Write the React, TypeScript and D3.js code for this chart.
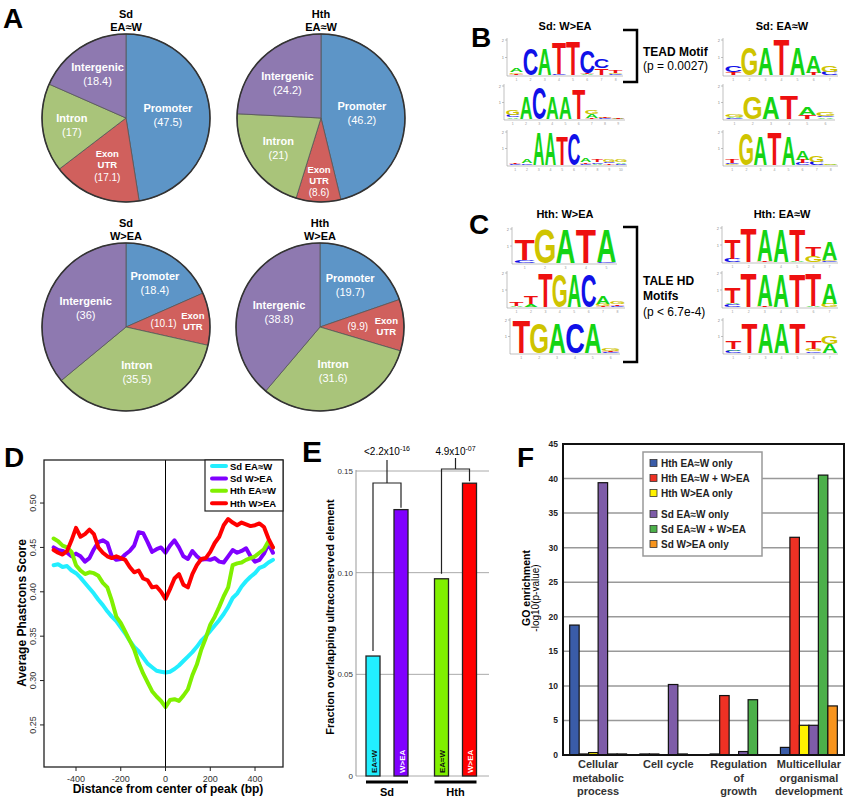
import React from "react";
import * as d3 from "d3";

const FONT = "'Liberation Sans', Arial, Helvetica, sans-serif";

// ---------------- Panel A data ----------------
const regionNames = ["Promoter", "Exon UTR", "Intron", "Intergenic"];
const regionColors = ["#5d95c7", "#d0605d", "#a9c47a", "#8e79b0"];
const sdEqualPct = [47.5, 17.1, 17, 18.4];
const hthEqualPct = [46.2, 8.6, 21, 24.2];
const sdWgtPct = [18.4, 10.1, 35.5, 36];
const hthWgtPct = [19.7, 9.9, 31.6, 38.8];

// ---------------- Panels B/C logo data (letter, bits) ----------------
type Col = [string, number][];
const logoSdW1: Col[] = [
  [["T", 0.08], ["G", 0.1], ["A", 0.22]],
  [["C", 1.5]],
  [["A", 1.5]],
  [["C", 0.05], ["T", 1.8]],
  [["T", 1.95]],
  [["A", 0.06], ["T", 0.06], ["C", 1.3]],
  [["T", 0.4], ["C", 0.55]],
  [["C", 0.06], ["G", 0.06], ["T", 0.15]],
];
const logoSdW2: Col[] = [
  [["A", 0.1], ["C", 0.15], ["G", 0.3]],
  [["A", 1.35]],
  [["C", 1.9]],
  [["A", 1.35]],
  [["A", 1.35]],
  [["T", 1.8]],
  [["T", 0.08], ["A", 0.2], ["G", 0.25]],
  [["C", 0.04], ["G", 0.04], ["T", 0.06]],
  [["A", 0.03], ["T", 0.03]],
];
const logoSdW3: Col[] = [
  [["C", 0.04], ["T", 0.06]],
  [["C", 0.1], ["A", 0.22]],
  [["A", 2.0]],
  [["A", 2.0]],
  [["T", 1.75]],
  [["C", 1.9]],
  [["C", 0.08], ["T", 0.1], ["A", 0.25]],
  [["A", 0.08], ["C", 0.1], ["T", 0.18]],
  [["T", 0.1], ["C", 0.1], ["G", 0.15]],
  [["C", 0.08], ["A", 0.1], ["G", 0.15]],
];
const logoSdE1: Col[] = [
  [["T", 0.15], ["C", 0.35]],
  [["G", 1.6]],
  [["A", 1.6]],
  [["T", 2.0]],
  [["A", 1.6]],
  [["T", 0.12], ["A", 1.0]],
  [["C", 0.2], ["G", 0.35]],
];
const logoSdE2: Col[] = [
  [["C", 0.05], ["A", 0.07], ["G", 0.12]],
  [["G", 1.35]],
  [["A", 1.35]],
  [["T", 1.4]],
  [["T", 0.25], ["A", 0.45]],
  [["A", 0.1], ["C", 0.1], ["G", 0.25]],
];
const logoSdE3: Col[] = [
  [["G", 0.05], ["C", 0.1], ["T", 0.2]],
  [["G", 1.9]],
  [["A", 1.75]],
  [["T", 1.95]],
  [["A", 1.75]],
  [["C", 0.12], ["T", 0.2], ["A", 0.55]],
  [["C", 0.2], ["G", 0.35]],
  [["A", 0.03], ["G", 0.04]],
];
const logoHthW1: Col[] = [
  [["C", 0.15], ["T", 1.2]],
  [["G", 2.0]],
  [["A", 2.0]],
  [["T", 2.0]],
  [["C", 0.04], ["A", 1.95]],
];
const logoHthW2: Col[] = [
  [["A", 0.08], ["T", 0.22]],
  [["A", 0.15], ["T", 0.45]],
  [["T", 2.0]],
  [["G", 1.9]],
  [["A", 1.9]],
  [["C", 1.9]],
  [["T", 0.05], ["G", 0.12], ["A", 0.45]],
  [["C", 0.05], ["T", 0.1], ["G", 0.18]],
];
const logoHthW3: Col[] = [
  [["T", 2.0]],
  [["G", 1.85]],
  [["A", 1.85]],
  [["C", 1.85]],
  [["A", 1.85]],
  [["C", 0.05], ["T", 0.08], ["G", 0.12]],
];
const logoHthE1: Col[] = [
  [["C", 0.2], ["T", 1.15]],
  [["T", 2.0]],
  [["T", 0.08], ["A", 1.85]],
  [["A", 1.95]],
  [["A", 0.08], ["T", 1.85]],
  [["G", 0.35], ["T", 0.5]],
  [["C", 0.04], ["G", 0.08], ["A", 1.1]],
];
const logoHthE2: Col[] = [
  [["C", 0.15], ["A", 0.08], ["T", 0.95]],
  [["T", 2.0]],
  [["T", 0.08], ["A", 1.85]],
  [["A", 1.95]],
  [["T", 1.9]],
  [["A", 0.05], ["T", 1.9]],
  [["G", 0.2], ["A", 1.2]],
];
const logoHthE3: Col[] = [
  [["C", 0.15], ["A", 0.08], ["T", 0.45]],
  [["T", 1.85]],
  [["A", 1.8]],
  [["A", 1.8]],
  [["T", 1.85]],
  [["C", 0.1], ["G", 0.12], ["T", 0.45]],
  [["A", 0.55], ["G", 0.5]],
];

// ---------------- Panel D data ----------------
const distanceBp = [
  -500, -480, -460, -440, -420, -400, -380, -360, -340, -320,
  -300, -280, -260, -240, -220, -200, -180, -160, -140, -120,
  -100, -80, -60, -40, -20, 0, 20, 40, 60, 80,
  100, 120, 140, 160, 180, 200, 220, 240, 260, 280,
  300, 320, 340, 360, 380, 400, 420, 440, 460, 480,
];
const sdEqualScore = [
  0.430, 0.431, 0.428, 0.429, 0.424, 0.421, 0.416, 0.410, 0.404, 0.398,
  0.391, 0.385, 0.378, 0.372, 0.367, 0.360, 0.353, 0.345, 0.338, 0.333,
  0.326, 0.319, 0.315, 0.311, 0.310, 0.309, 0.310, 0.313, 0.317, 0.322,
  0.327, 0.332, 0.338, 0.345, 0.350, 0.356, 0.362, 0.368, 0.375, 0.383,
  0.393, 0.398, 0.406, 0.412, 0.417, 0.421, 0.427, 0.429, 0.433, 0.436,
];
const sdWgtScore = [
  0.450, 0.447, 0.446, 0.444, 0.440, 0.443, 0.440, 0.434, 0.438, 0.448,
  0.456, 0.458, 0.455, 0.440, 0.436, 0.437, 0.442, 0.446, 0.452, 0.467,
  0.466, 0.456, 0.445, 0.448, 0.450, 0.444, 0.452, 0.458, 0.450, 0.440,
  0.437, 0.446, 0.440, 0.436, 0.437, 0.436, 0.438, 0.434, 0.433, 0.440,
  0.447, 0.444, 0.446, 0.449, 0.440, 0.434, 0.436, 0.443, 0.454, 0.444,
];
const hthEqualScore = [
  0.460, 0.457, 0.452, 0.450, 0.445, 0.430, 0.424, 0.420, 0.422, 0.421,
  0.418, 0.410, 0.405, 0.390, 0.372, 0.365, 0.355, 0.345, 0.335, 0.320,
  0.308, 0.298, 0.288, 0.282, 0.277, 0.270, 0.278, 0.279, 0.277, 0.283,
  0.290, 0.306, 0.318, 0.335, 0.348, 0.363, 0.372, 0.383, 0.395, 0.405,
  0.430, 0.432, 0.433, 0.436, 0.438, 0.440, 0.444, 0.448, 0.457, 0.450,
];
const hthWgtScore = [
  0.447, 0.444, 0.442, 0.446, 0.458, 0.472, 0.462, 0.465, 0.470, 0.465,
  0.450, 0.444, 0.440, 0.438, 0.440, 0.438, 0.436, 0.428, 0.422, 0.424,
  0.415, 0.413, 0.405, 0.406, 0.400, 0.392, 0.403, 0.415, 0.420, 0.408,
  0.405, 0.420, 0.430, 0.437, 0.438, 0.445, 0.455, 0.462, 0.475, 0.482,
  0.478, 0.475, 0.478, 0.476, 0.474, 0.475, 0.477, 0.473, 0.460, 0.450,
];
const phastSeriesNames = ["Sd EA≈W", "Sd W>EA", "Hth EA≈W", "Hth W>EA"];
const phastColors = ["#22eeff", "#8000ff", "#80f000", "#ff0000"];
const phastYTicks = [0.25, 0.3, 0.35, 0.4, 0.45, 0.5];
const phastXTicks = [-400, -200, 0, 200, 400];

// ---------------- Panel E data ----------------
const ucGroups = ["Sd", "Hth"];
const ucSubgroups = ["EA≈W", "W>EA"];
const ucSd = [0.059, 0.131];
const ucHth = [0.097, 0.144];
const ucColors = [["#22eeff", "#8000ff"], ["#80f000", "#ff0000"]];
const ucLabelColors = [["#111", "#fff"], ["#111", "#fff"]];
const ucPvalues = [["<2.2x10", "-16"], ["4.9x10", "-07"]];
const ucYTicks = [0, 0.05, 0.1, 0.15];
const ucYTickLabels = ["0", "0.05", "0.10", "0.15"];

// ---------------- Panel F data ----------------
const goCategories = ["Cellular metabolic process", "Cell cycle", "Regulation of growth", "Multicellular organismal development"];
const goCategoryLines = [["Cellular", "metabolic", "process"], ["Cell cycle"], ["Regulation", "of", "growth"], ["Multicellular", "organismal", "development"]];
const goSeries = ["Hth EA≈W only", "Hth EA≈W + W>EA", "Hth W>EA only", "Sd EA≈W only", "Sd EA≈W + W>EA", "Sd W>EA only"];
const goColors = ["#3a5ca8", "#ee3124", "#fff200", "#7e5ca8", "#4cb04a", "#f7941d"];
const goHthEqOnly = [18.8, 0.15, 0.15, 1.1];
const goHthBoth = [0.15, 0.15, 8.6, 31.5];
const goHthWgtOnly = [0.35, 0, 0, 4.3];
const goSdEqOnly = [39.4, 10.2, 0.5, 4.3];
const goSdBoth = [0.15, 0.15, 8.0, 40.5];
const goSdWgtOnly = [0.15, 0, 0, 7.1];
const goYTicks = [0, 5, 10, 15, 20, 25, 30, 35, 40, 45];

// ================= components =================
const LETTER_COLORS: Record<string, string> = { A: "#14d414", C: "#1010e8", G: "#cfc400", T: "#ee1010" };
const LETTER_INK: Record<string, number> = { A: 0.70, C: 0.62, G: 0.66, T: 0.58 };

function Logo({ x0, x1, base, ppb, cols }: { x0: number; x1: number; base: number; ppb: number; cols: Col[] }) {
  const n = cols.length;
  const xs = d3.scaleBand<number>().domain(d3.range(n)).range([x0 + 2, x1]).padding(0.04);
  const y = d3.scaleLinear().domain([0, 2]).range([base, base - 2 * ppb]);
  const letters: JSX.Element[] = [];
  cols.forEach((col, i) => {
    let acc = 0;
    const cx = (xs(i) as number) + xs.bandwidth() / 2;
    col.forEach(([L, h], j) => {
      const yb = y(acc);
      const yt = y(acc + h);
      acc += h;
      const hp = yb - yt;
      if (hp < 0.3) return;
      const sx = (xs.bandwidth() * 0.98) / (LETTER_INK[L] * 100);
      const sy = hp / 71;
      letters.push(
        <text key={`${i}-${j}`} transform={`translate(${cx},${yb}) scale(${sx},${sy})`} textAnchor="middle"
          fontSize={100} fontWeight="bold" fontFamily={FONT} fill={LETTER_COLORS[L]}>{L}</text>
      );
    });
  });
  return (
    <g>
      <line x1={x0} x2={x0} y1={base + 1} y2={y(2) - 2} stroke="#999" strokeWidth={0.6} />
      <line x1={x0} x2={x1} y1={base + 1} y2={base + 1} stroke="#999" strokeWidth={0.6} />
      {[1, 2].map((t) => (
        <g key={t}>
          <line x1={x0 - 2} x2={x0} y1={y(t)} y2={y(t)} stroke="#999" strokeWidth={0.6} />
          <text x={x0 - 3} y={y(t) + 1.5} fontSize={4} fill="#888" textAnchor="end" fontFamily={FONT}>{t}</text>
        </g>
      ))}
      {cols.map((_, i) => (
        <text key={i} x={(xs(i) as number) + xs.bandwidth() / 2} y={base + 6} fontSize={3.5} fill="#999" textAnchor="middle" fontFamily={FONT}>{i + 1}</text>
      ))}
      {letters}
    </g>
  );
}

function Pie({ values, cx, cy, r, title, labelR, split }: any) {
  const arcs = d3.pie<number>().sort(null).value((d) => d)(values);
  const arcGen = d3.arc<any>().innerRadius(0).outerRadius(r);
  const pos = (a: any, f: number) => {
    const m = (a.startAngle + a.endAngle) / 2;
    return [cx + Math.sin(m) * f * r, cy - Math.cos(m) * f * r];
  };
  return (
    <g>
      <text x={cx} y={cy - 100} textAnchor="middle" fontSize={11} fontWeight="bold" fontFamily={FONT}>{title[0]}</text>
      <text x={cx} y={cy - 87} textAnchor="middle" fontSize={11} fontWeight="bold" fontFamily={FONT}>{title[1]}</text>
      <g transform={`translate(${cx},${cy})`}>
        {arcs.map((a, i) => (
          <path key={i} d={arcGen(a) as string} fill={regionColors[i]} stroke="#555" strokeWidth={0.8} />
        ))}
        <circle r={r} fill="none" stroke="#333" strokeWidth={1.6} />
      </g>
      {arcs.map((a, i) => {
        const valStr = `(${values[i]})`;
        if (i === 1) {
          if (split) {
            const [nx, ny] = pos(a, labelR[i][0]);
            const [ex, ey] = pos(a, labelR[i][1]);
            return (
              <g key={i} fill="#fff" fontFamily={FONT} textAnchor="middle">
                <text x={nx} y={ny + 3.5} fontSize={10}>{valStr}</text>
                <text x={ex} y={ey - 1.5} fontSize={9.5} fontWeight="bold">Exon</text>
                <text x={ex} y={ey + 9.5} fontSize={9.5} fontWeight="bold">UTR</text>
              </g>
            );
          }
          const [x, y] = pos(a, labelR[i]);
          return (
            <g key={i} fill="#fff" fontFamily={FONT} textAnchor="middle">
              <text x={x} y={y - 7.5} fontSize={9.5} fontWeight="bold">Exon</text>
              <text x={x} y={y + 3.5} fontSize={9.5} fontWeight="bold">UTR</text>
              <text x={x} y={y + 16} fontSize={10}>{valStr}</text>
            </g>
          );
        }
        const [x, y] = pos(a, labelR[i]);
        return (
          <g key={i} fill="#fff" fontFamily={FONT} textAnchor="middle">
            <text x={x} y={y - 3} fontSize={11} fontWeight="bold">{regionNames[i]}</text>
            <text x={x} y={y + 11} fontSize={11}>{valStr}</text>
          </g>
        );
      })}
    </g>
  );
}

function PanelD() {
  const x = d3.scaleLinear().domain([-543, 525]).range([44, 283]);
  const y = d3.scaleLinear().domain([0.2026, 0.5485]).range([767, 460]);
  const series = [sdEqualScore, sdWgtScore, hthEqualScore, hthWgtScore];
  const line = d3.line<number>().x((_, i) => x(distanceBp[i])).y((d) => y(d));
  return (
    <g fontFamily={FONT}>
      {series.map((s, k) => (
        <path key={k} d={line(s) as string} fill="none" stroke={phastColors[k]} strokeWidth={4} strokeLinejoin="round" strokeLinecap="round" />
      ))}
      <line x1={x(0)} x2={x(0)} y1={460} y2={767} stroke="#000" strokeWidth={1} />
      <rect x={44} y={460} width={239} height={307} fill="none" stroke="#222" strokeWidth={1.3} />
      {phastYTicks.map((t) => (
        <g key={t}>
          <line x1={40} x2={44} y1={y(t)} y2={y(t)} stroke="#222" />
          <text transform={`translate(36,${y(t)}) rotate(-90)`} textAnchor="middle" fontSize={9} fill="#333">{t.toFixed(2)}</text>
        </g>
      ))}
      {phastXTicks.map((t) => (
        <g key={t}>
          <line x1={x(t)} x2={x(t)} y1={767} y2={771} stroke="#222" />
          <text x={x(t)} y={782} textAnchor="middle" fontSize={9} fill="#333">{t}</text>
        </g>
      ))}
      <text x={168} y={793} textAnchor="middle" fontSize={12} fontWeight="bold">Distance from center of peak (bp)</text>
      <text transform="translate(25.5,613) rotate(-90)" textAnchor="middle" fontSize={12} fontWeight="bold">Average Phastcons Score</text>
      <rect x={205} y={460} width={78} height={51} fill="#fff" stroke="#222" strokeWidth={1.2} />
      {phastSeriesNames.map((nm, k) => (
        <g key={nm}>
          <line x1={212} x2={226} y1={466 + k * 12.4} y2={466 + k * 12.4} stroke={phastColors[k]} strokeWidth={4} strokeLinecap="round" />
          <text x={230} y={469.5 + k * 12.4} fontSize={9.5} fontWeight="bold">{nm}</text>
        </g>
      ))}
    </g>
  );
}

function PanelE() {
  const y = d3.scaleLinear().domain([0, 0.15]).range([776, 471]);
  const xg = d3.scalePoint<string>().domain(ucGroups).range([387, 455.5]);
  const xs = d3.scaleBand<string>().domain(ucSubgroups).range([-21, 21]).paddingInner(0.5);
  const vals = [ucSd, ucHth];
  const bracketY = [483, 469];
  const tickTop = [460, 458];
  return (
    <g fontFamily={FONT}>
      {ucYTicks.map((t, i) => (
        <g key={t}>
          <line x1={356} x2={489} y1={y(t)} y2={y(t)} stroke="#aaa" strokeWidth={1} />
          <text x={353} y={y(t) + 3} textAnchor="end" fontSize={8} fill="#333">{ucYTickLabels[i]}</text>
        </g>
      ))}
      <line x1={356} x2={356} y1={470} y2={776} stroke="#999" strokeWidth={1} />
      {ucGroups.map((g, gi) => {
        const gx = xg(g) as number;
        const bx = ucSubgroups.map((s) => gx + (xs(s) as number));
        const bc = bx.map((b) => b + xs.bandwidth() / 2);
        return (
          <g key={g}>
            {ucSubgroups.map((s, si) => (
              <g key={s}>
                <rect x={bx[si]} y={y(vals[gi][si])} width={xs.bandwidth()} height={776 - y(vals[gi][si])}
                  fill={ucColors[gi][si]} stroke="#222" strokeWidth={1.3} />
                <text transform={`translate(${bc[si] + 3.5},773) rotate(-90)`} fontSize={8} fontWeight="bold" fill={ucLabelColors[gi][si]}>{s}</text>
              </g>
            ))}
            <path d={`M${bc[0]},${y(vals[gi][0]) - 5} V${bracketY[gi]} H${bc[1]} V${y(vals[gi][1]) - 2}`} fill="none" stroke="#222" strokeWidth={1.2} />
            <line x1={gx} x2={gx} y1={bracketY[gi]} y2={tickTop[gi]} stroke="#222" strokeWidth={1.2} />
            <text x={gx} y={455} textAnchor="middle" fontSize={10}>{ucPvalues[gi][0]}<tspan dy={-4} fontSize={7}>{ucPvalues[gi][1]}</tspan></text>
            <line x1={bx[0]} x2={bx[1] + xs.bandwidth()} y1={782} y2={782} stroke="#000" strokeWidth={3} />
            <text x={gx} y={796} textAnchor="middle" fontSize={11} fontWeight="bold">{g}</text>
          </g>
        );
      })}
      <text transform="translate(334,617) rotate(-90)" textAnchor="middle" fontSize={11} fontWeight="bold">Fraction overlapping ultraconserved element</text>
    </g>
  );
}

function PanelF() {
  const x0 = d3.scaleBand<string>().domain(goCategories).range([563, 844]).paddingInner(0.19).paddingOuter(0.095);
  const x1 = d3.scaleBand<string>().domain(goSeries).range([0, x0.bandwidth()]);
  const y = d3.scaleLinear().domain([0, 45]).range([755, 444]);
  const vals = [goHthEqOnly, goHthBoth, goHthWgtOnly, goSdEqOnly, goSdBoth, goSdWgtOnly];
  const legendY = [463, 478, 493, 514, 529, 544];
  return (
    <g fontFamily={FONT}>
      {goYTicks.map((t) => (
        <g key={t}>
          {t > 0 && t < 45 && <line x1={563} x2={844} y1={y(t)} y2={y(t)} stroke="#999" strokeWidth={1.5} />}
          <text x={558} y={y(t) + 3} textAnchor="end" fontSize={8.5} fontWeight="bold" fill="#222">{t}</text>
        </g>
      ))}
      {goCategories.map((c, ci) => (
        <g key={c}>
          {goSeries.map((s, si) => {
            const v = vals[si][ci];
            if (v <= 0) return null;
            return (
              <rect key={s} x={(x0(c) as number) + (x1(s) as number)} y={y(v)} width={x1.bandwidth()} height={755 - y(v)}
                fill={goColors[si]} stroke="#111" strokeWidth={1.2} />
            );
          })}
          {goCategoryLines[ci].map((ln, li) => (
            <text key={li} x={(x0(c) as number) + x0.bandwidth() / 2} y={768 + li * 13.5} textAnchor="middle" fontSize={11} fontWeight="bold" fill="#333">{ln}</text>
          ))}
        </g>
      ))}
      <rect x={563} y={444} width={281} height={311} fill="none" stroke="#111" strokeWidth={2} />
      <rect x={643} y={452} width={119} height={104} fill="#fff" stroke="#999" strokeWidth={1.5} />
      {goSeries.map((s, si) => (
        <g key={s}>
          <rect x={650} y={legendY[si] - 3.5} width={7} height={7} fill={goColors[si]} stroke="#333" strokeWidth={0.8} />
          <text x={661} y={legendY[si] + 3.5} fontSize={10} fontWeight="bold" fill="#222">{s}</text>
        </g>
      ))}
      <text transform="translate(530,588) rotate(-90)" textAnchor="middle" fontSize={10.5} fontWeight="bold">GO enrichment</text>
      <text transform="translate(539,598) rotate(-90)" textAnchor="middle" fontSize={10}>-log10(p-value)</text>
    </g>
  );
}

export default function App() {
  const pies = [
    { values: sdEqualPct, cx: 126, cy: 118, title: ["Sd", "EA≈W"], labelR: [0.5, 0.6, 0.65, 0.62], split: false },
    { values: hthEqualPct, cx: 321, cy: 118, title: ["Hth", "EA≈W"], labelR: [0.49, 0.74, 0.62, 0.58], split: false },
    { values: sdWgtPct, cx: 126, cy: 327, title: ["Sd", "W>EA"], labelR: [0.63, [0.45, 0.8], 0.55, 0.53], split: true },
    { values: hthWgtPct, cx: 320, cy: 327, title: ["Hth", "W>EA"], labelR: [0.62, [0.45, 0.79], 0.55, 0.52], split: true },
  ];
  const logos = [
    { x0: 507, x1: 623, base: 75, ppb: 17.5, cols: logoSdW1 },
    { x0: 504, x1: 625, base: 119, ppb: 16.5, cols: logoSdW2 },
    { x0: 507, x1: 627, base: 165, ppb: 16.5, cols: logoSdW3 },
    { x0: 723, x1: 838, base: 75, ppb: 17.5, cols: logoSdE1 },
    { x0: 723, x1: 835, base: 119, ppb: 16.5, cols: logoSdE2 },
    { x0: 723, x1: 838, base: 165, ppb: 16.5, cols: logoSdE3 },
    { x0: 512, x1: 617, base: 263, ppb: 17, cols: logoHthW1 },
    { x0: 507, x1: 625, base: 307, ppb: 17, cols: logoHthW2 },
    { x0: 510, x1: 620, base: 353, ppb: 16.5, cols: logoHthW3 },
    { x0: 722, x1: 838, base: 262, ppb: 17, cols: logoHthE1 },
    { x0: 722, x1: 838, base: 307, ppb: 17, cols: logoHthE2 },
    { x0: 723, x1: 838, base: 353, ppb: 16.5, cols: logoHthE3 },
  ];
  return (
    <div style={{ position: "absolute", left: 0, top: 0 }}>
      <svg width={849} height={800} viewBox="0 0 849 800" style={{ display: "block" }}>
        <rect width={849} height={800} fill="#fff" />
        <g fontFamily={FONT} fontWeight="bold" fontSize={28}>
          <text x={3} y={28}>A</text>
          <text x={471} y={47}>B</text>
          <text x={469} y={234}>C</text>
          <text x={4} y={467}>D</text>
          <text x={302} y={462} fontSize={30}>E</text>
          <text x={517} y={467}>F</text>
        </g>
        {pies.map((p, i) => (
          <Pie key={i} values={p.values} cx={p.cx} cy={p.cy} r={84} title={p.title} labelR={p.labelR} split={p.split} />
        ))}
        <g fontFamily={FONT} fontWeight="bold" fontSize={11} textAnchor="middle">
          <text x={565} y={30}>Sd: W&gt;EA</text>
          <text x={782} y={30}>Sd: EA≈W</text>
          <text x={565} y={218}>Hth: W&gt;EA</text>
          <text x={782} y={218}>Hth: EA≈W</text>
        </g>
        {logos.map((l, i) => (
          <Logo key={i} {...l} />
        ))}
        <path d="M623,30 H637 V82 H623" fill="none" stroke="#000" strokeWidth={2.5} />
        <path d="M623,227 H637 V362 H623" fill="none" stroke="#000" strokeWidth={2.5} />
        <g fontFamily={FONT} fontSize={12}>
          <text x={643} y={56} fontWeight="bold">TEAD Motif</text>
          <text x={643} y={70}>(p = 0.0027)</text>
          <text x={643} y={285} fontWeight="bold">TALE HD</text>
          <text x={643} y={300} fontWeight="bold">Motifs</text>
          <text x={643} y={316}>(p &lt; 6.7e-4)</text>
        </g>
        <PanelD />
        <PanelE />
        <PanelF />
      </svg>
    </div>
  );
}
